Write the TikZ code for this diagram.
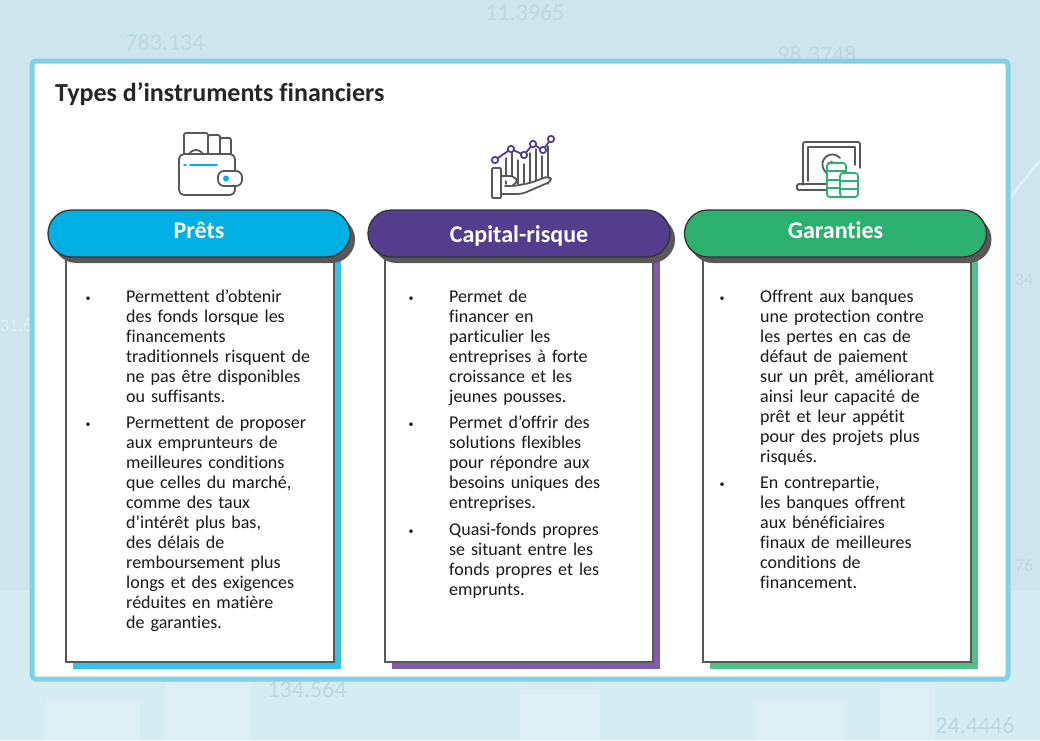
\documentclass[tikz,border=0pt]{standalone}
\usepackage{fontspec}
\setmainfont{Carlito}[Ligatures={NoCommon}]
\usetikzlibrary{positioning,calc,shadows,arrows.meta}
\definecolor{pretblue}{RGB}{0,176,228}
\definecolor{pretshade}{RGB}{58,192,232}
\definecolor{capviolet}{RGB}{82,62,140}
\definecolor{capshade}{RGB}{126,92,168}
\definecolor{garvert}{RGB}{44,176,112}
\definecolor{garshade}{RGB}{82,190,138}
\definecolor{panelrim}{RGB}{128,208,232}
\definecolor{bgblue}{RGB}{206,229,237}
\definecolor{bglight}{RGB}{214,236,243}
\definecolor{icongray}{RGB}{88,88,88}
\definecolor{ghost}{RGB}{190,216,226}
\definecolor{ghostlight}{RGB}{224,240,246}

\newcommand\puce{\leavevmode\llap{\raisebox{1pt}{\fontsize{10}{10}\selectfont\textbullet}\hspace{35.5pt}}}

\tikzset{
  pill/.style={rounded corners=23.5pt, draw=black!80, line width=1.3pt,
    minimum width=302pt, minimum height=47pt, text=white,
    text height=13pt, text depth=4pt,
    font=\fontsize{24}{26}\selectfont\bfseries,
    drop shadow={shadow xshift=5pt, shadow yshift=-6pt, fill=icongray, opacity=1}},
  card/.style={draw=icongray, line width=1.6pt, fill=white,
    minimum width=268pt, minimum height=412pt},
  corps/.style={anchor=base west, align=left, text width=205pt, inner sep=0pt,
    font=\fontsize{18}{20}\selectfont, text=black!90},
  icon/.style={icongray, line width=1.8pt, line join=round, line cap=round},
  ghosttext/.style={text=ghost, font=\fontsize{24}{24}\selectfont}
}

\begin{document}
\begin{tikzpicture}[x=1pt,y=-1pt]
  \useasboundingbox (0,0) rectangle (1040,740);

  % fond
  \fill[bgblue] (0,0) rectangle (1040,740);
  \fill[bglight] (0,590) rectangle (1040,740);
  \foreach \xa/\xb/\ya in {45/140/700, 165/250/640, 520/600/690, 755/845/700, 880/935/650}
    \fill[ghostlight!70!bglight] (\xa,\ya) rectangle (\xb,740);
  \draw[ghostlight, line width=3pt] (1008,200) -- (1040,160);
  \node[ghosttext] (n1) at (165,42) {783.134};
  \node[ghosttext] (n2) at (525,12) {11.3965};
  \node[ghosttext] (n3) at (817,54) {98.3748};
  \node[ghosttext] (n4) at (307,689) {134.564};
  \node[ghosttext] (n5) at (975,725) {24.4446};
  \node[ghosttext, text=ghostlight, font=\fontsize{18}{18}\selectfont] (n6) at (16,325) {31.6};
  \node[ghosttext, font=\fontsize{18}{18}\selectfont] (n7) at (1024,565) {76};
  \node[ghosttext, font=\fontsize{18}{18}\selectfont] (n8) at (1024,280) {34};

  % panneau
  \draw[panelrim, line width=5pt, fill=white, rounded corners=4pt] (32,61) rectangle (1008,679);
  \node[anchor=base west, inner sep=0pt, font=\fontsize{26}{28}\selectfont\bfseries, text=black!85]
    (titre) at (55,101) {Types d’instruments financiers};

  % cartes
  \node[card, drop shadow={shadow xshift=7pt, shadow yshift=-7pt, fill=pretshade, opacity=1}]
    (pretscard) at (200,456) {};
  \node[card, drop shadow={shadow xshift=7pt, shadow yshift=-7pt, fill=capshade, opacity=1}]
    (capcard) at (519,456) {};
  \node[card, drop shadow={shadow xshift=7pt, shadow yshift=-7pt, fill=garshade, opacity=1}]
    (garcard) at (837,456) {};

  % en-tetes
  \node[pill, fill=pretblue] (pretspill) at (199,233.5) {Prêts};
  \node[pill, fill=capviolet] (cappill) at (519,233.5) {\raisebox{-4pt}{Capital-risque}};
  \node[pill, fill=garvert] (garpill) at (835.5,233.5) {Garanties};

  % textes
  \node[corps] (pretstexte) at (126,302) {\puce Permettent d’obtenir\\
    des fonds lorsque les\\ financements\\ traditionnels risquent de\\
    ne pas être disponibles\\ ou suffisants.\\[6pt]
    \puce Permettent de proposer\\ aux emprunteurs de\\ meilleures conditions\\
    que celles du marché,\\ comme des taux\\ d’intérêt plus bas,\\ des délais de\\
    remboursement plus\\ longs et des exigences\\ réduites en matière\\ de garanties.};
  \node[corps] (captexte) at (449,302) {\puce Permet de\\ financer en\\ particulier les\\
    entreprises à forte\\ croissance et les\\ jeunes pousses.\\[6pt]
    \puce Permet d’offrir des\\ solutions flexibles\\ pour répondre aux\\
    besoins uniques des\\ entreprises.\\[7pt]
    \puce Quasi-fonds propres\\ se situant entre les\\ fonds propres et les\\ emprunts.};
  \node[corps] (gartexte) at (760,302) {\puce Offrent aux banques\\ une protection contre\\
    les pertes en cas de\\ défaut de paiement\\ sur un prêt, améliorant\\
    ainsi leur capacité de\\ prêt et leur appétit\\ pour des projets plus\\ risqués.\\[6pt]
    \puce En contrepartie,\\ les banques offrent\\ aux bénéficiaires\\
    finaux de meilleures\\ conditions de\\ financement.};

  % icone portefeuille
  \begin{scope}[icon]
    \draw[fill=white, rounded corners=2pt] (184,158) -- (184,133) -- (208,133) -- (208,158);
    \draw (188,158) arc (180:360:8);
    \draw[fill=white, rounded corners=2pt] (208,158) -- (208,135) -- (220,135) -- (220,158);
    \draw[fill=white, rounded corners=2pt] (220,158) -- (220,138) -- (231,138) -- (231,158);
    \draw[fill=white, rounded corners=5pt] (179,154) rectangle (235,195);
    \draw[pretblue] (184,165) -- (186,165) (190,165) -- (217,165);
    \draw[fill=white, rounded corners=6pt] (218,171) rectangle (242,186);
    \fill[pretblue] (226,178.5) circle (3pt);
  \end{scope}

  % icone capital
  \begin{scope}[icon]
    \foreach \xb/\yt in {506/158, 512/152, 518/160, 524/164, 530/153, 536/149, 542/156, 548/146}
      \draw[line width=1.4pt] (\xb,\yt) -- (\xb,184);
    \draw[fill=white, rounded corners=4pt] (501,194) -- (522,194) -- (552,181) -- (549,176)
      -- (530,183) -- (514,186) -- (505,186);
    \draw[fill=white, rounded corners=3pt] (501,176) -- (513,176) -- (518,181) -- (512,186);
    \draw[fill=white, rounded corners=1pt] (492,168) rectangle (501,198);
    \draw[capviolet] (495,160) -- (511,149) -- (524,155) -- (533,144) -- (543,150) -- (551,139);
    \foreach \pt in {(495,160), (511,149), (524,155), (533,144), (543,150), (551,139)}
      \draw[capviolet, fill=white] \pt circle (3.2pt);
  \end{scope}

  % icone garanties
  \begin{scope}[icon]
    \draw[rounded corners=2pt] (803,185) -- (803,142) -- (860,142) -- (860,168);
    \draw (808,181) -- (808,147) -- (855,147) -- (855,165);
    \draw[rounded corners=1.5pt] (797,184) rectangle (828,190);
    \draw[-{Stealth[length=4pt]}] (840,158) arc (-40:-250:10);
    \draw[dotted, line width=1.4pt] (832,167) circle (5.5);
    \draw[garvert, fill=white, rounded corners=3pt] (827,163) rectangle (846,197);
    \draw[garvert] (827,171) -- (846,171) (827,180) -- (846,180) (827,188) -- (846,188);
    \draw[garvert, fill=white, rounded corners=3pt] (840,173) rectangle (858,197);
    \draw[garvert] (840,181) -- (858,181) (840,189) -- (858,189);
  \end{scope}
\end{tikzpicture}
\end{document}
